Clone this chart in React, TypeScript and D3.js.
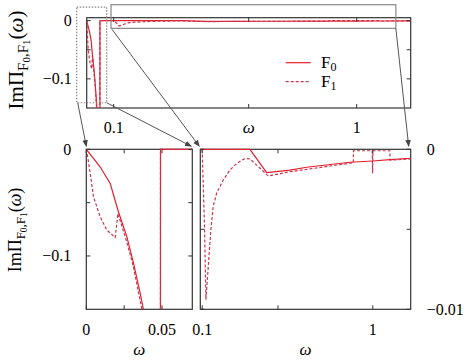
import React from 'react';
import * as d3 from 'd3';

// omega grid and Im Pi values
const omegaF0 = [0, 0.005, 0.0092, 0.0158, 0.0209, 0.0268, 0.0312, 0.0356, 0.0377, 0.044, 0.0489, 0.049, 0.07, 0.1, 0.352, 0.44, 0.564, 0.651, 0.88, 1.0, 1.09, 1.2];
const valuesF0 = [0, -0.009, -0.0166, -0.0321, -0.0571, -0.0821, -0.107, -0.135, -0.15, -0.25, -0.5, 0, 0, 0, 0, -0.00146, -0.0013, -0.00112, -0.00081, -0.00073, -0.00065, -0.00056];

const omegaF1 = [0, 0.001, 0.0026, 0.0048, 0.0092, 0.0136, 0.0191, 0.0209, 0.0264, 0.031, 0.0367, 0.044, 0.0489, 0.049, 0.07, 0.1, 0.1125, 0.1196, 0.146, 0.158, 0.176, 0.211, 0.246, 0.282, 0.317, 0.334, 0.352, 0.449, 0.563, 0.88, 0.8975, 0.898, 0.997, 0.999, 1.001, 1.09, 1.091, 1.2];
const valuesF1 = [0, -0.008, -0.0228, -0.0447, -0.0634, -0.0758, -0.0827, -0.0602, -0.0852, -0.1095, -0.15, -0.28, -0.5, 0, 0, 0, -0.005, -0.0094, -0.005, -0.00358, -0.00275, -0.00192, -0.0013, -0.00088, -0.00063, -0.00058, -0.0006, -0.00167, -0.0014, -0.00087, -0.00085, -0.00009, -0.00009, -0.0015, -0.00009, -0.00009, -0.00068, -0.0006];

const seriesNames = ['F0', 'F1'];

// ticks
const topXTicks = [0.1, 0.6, 1];
const topXLabels = ['0.1', '', '1'];
const topYTicks = [0, -0.05, -0.1];
const topYLabels = ['0', '', '\u22120.1'];
const leftXTicks = [0, 0.025, 0.05];
const leftXLabels = ['0', '', '0.05'];
const leftYTicks = [0, -0.05, -0.1];
const leftYLabels = ['0', '', '\u22120.1'];
const rightXTicks = [0.1, 0.5, 1];
const rightXLabels = ['0.1', '', '1'];
const rightYTicks = [0, -0.005, -0.01];
const rightYLabels = ['0', '', '\u22120.01'];

const FONT = '"Liberation Serif", "DejaVu Serif", serif';
const RED0 = '#e3202c';
const RED1 = '#cc3550';
const FRAME = '#333';

type Pt = [number, number];
const ptsF0: Pt[] = omegaF0.map((w, i) => [w, valuesF0[i]]);
const ptsF1: Pt[] = omegaF1.map((w, i) => [w, valuesF1[i]]);

function Panel({ id, x, y, xTicks, xLabels, yTicks, yLabels, yLabelSide, xLabelY }: any) {
  const [x0, x1] = x.range();
  const [y1, y0] = y.range();
  const line = d3.line<Pt>().x(d => x(d[0])).y(d => y(d[1]));
  const tl = 4;
  return (
    <g>
      {/* clip a bit above the frame so the lines sitting on zero stay visible */}
      <clipPath id={id}>
        <rect x={x0} y={y0 - 1.5} width={x1 - x0} height={y1 - y0 + 1.5} />
      </clipPath>
      <rect x={x0} y={y0} width={x1 - x0} height={y1 - y0} fill="none" stroke={FRAME} strokeWidth={1.2} />
      <g clipPath={`url(#${id})`}>
        <path d={line(ptsF0) || ''} fill="none" stroke={RED0} strokeWidth={1.2} />
        <path d={line(ptsF1) || ''} fill="none" stroke={RED1} strokeWidth={1.2} strokeDasharray="3,2" />
      </g>
      {xTicks.map((t: number, i: number) => (
        <g key={'x' + i}>
          <line x1={x(t)} x2={x(t)} y1={y1} y2={y1 - tl} stroke={FRAME} />
          <line x1={x(t)} x2={x(t)} y1={y0} y2={y0 + tl} stroke={FRAME} />
          {xLabels[i] && (
            <text x={x(t)} y={xLabelY} textAnchor="middle" fontSize={16}>{xLabels[i]}</text>
          )}
        </g>
      ))}
      {yTicks.map((t: number, i: number) => (
        <g key={'y' + i}>
          <line x1={x0} x2={x0 + tl} y1={y(t)} y2={y(t)} stroke={FRAME} />
          <line x1={x1} x2={x1 - tl} y1={y(t)} y2={y(t)} stroke={FRAME} />
          {yLabels[i] && (yLabelSide === 'left' ? (
            <text x={x0 - 15} y={y(t)} dy="0.34em" textAnchor="end" fontSize={16}>{yLabels[i]}</text>
          ) : (
            <text x={x1 + 16} y={y(t)} dy="0.34em" textAnchor="start" fontSize={16}>{yLabels[i]}</text>
          ))}
        </g>
      ))}
    </g>
  );
}

function YLabel({ cx, cy, size }: { cx: number; cy: number; size: number }) {
  const s1 = size * 0.72;
  const s2 = size * 0.52;
  return (
    <text transform={`translate(${cx},${cy}) rotate(-90)`} textAnchor="middle" fontSize={size} dy={size * 0.3}>
      ImΠ
      <tspan fontSize={s1} dy={size * 0.2}>F</tspan>
      <tspan fontSize={s2} dy={size * 0.12}>0</tspan>
      <tspan fontSize={s1} dy={-size * 0.12}>,F</tspan>
      <tspan fontSize={s2} dy={size * 0.12}>1</tspan>
      <tspan fontSize={size} dy={-size * 0.32}>(</tspan>
      <tspan fontStyle="italic">ω</tspan>
      <tspan>)</tspan>
    </text>
  );
}

export default function App() {
  const xTop = d3.scaleLinear().domain([0, 1.2]).range([86.7, 410.7]);
  const yTop = d3.scaleLinear().domain([-0.15, 0.005]).range([108, 17.7]);
  const xLeft = d3.scaleLinear().domain([0, 0.07]).range([86.3, 192.3]);
  const yLeft = d3.scaleLinear().domain([-0.15, 0]).range([309.3, 149.3]);
  const xRight = d3.scaleLinear().domain([0.09, 1.2]).range([200.3, 410.7]);
  const yRight = d3.scaleLinear().domain([-0.01, 0]).range([309.3, 149.3]);

  // zoom boxes on the top panel
  const dx0 = xTop(-0.037), dx1 = xTop(0.074), dy0 = yTop(0.023), dy1 = yTop(-0.141);
  const gx0 = xTop(0.09), gx1 = xTop(1.145), gy0 = yTop(0.0273), gy1 = yTop(-0.0133);
  const tipY = yLeft(0) - 3;
  const arrows: [number, number, number, number][] = [
    [dx0 + 1, dy1, xLeft(0), tipY],
    [dx1, dy1, xLeft(0.07) - 1, tipY],
    [gx0 + 1, gy1 + 1, xRight(0.09) - 1, tipY],
    [gx1, gy1, xRight(1.2) - 2, tipY],
  ];

  return (
    <svg width={471} height={361} fontFamily={FONT} style={{ display: 'block', margin: 0, position: 'absolute', left: 0, top: 0 }}>
      <defs>
        <marker id="arr" viewBox="0 0 10 10" refX={9} refY={5} markerWidth={7} markerHeight={7} orient="auto">
          <path d="M0,1 L10,5 L0,9 z" fill="#444" />
        </marker>
      </defs>

      <Panel id="cTop" x={xTop} y={yTop} xTicks={topXTicks} xLabels={topXLabels} yTicks={topYTicks} yLabels={topYLabels} yLabelSide="left" xLabelY={133} />
      <Panel id="cLeft" x={xLeft} y={yLeft} xTicks={leftXTicks} xLabels={leftXLabels} yTicks={leftYTicks} yLabels={leftYLabels} yLabelSide="left" xLabelY={335} />
      <Panel id="cRight" x={xRight} y={yRight} xTicks={rightXTicks} xLabels={rightXLabels} yTicks={rightYTicks} yLabels={rightYLabels} yLabelSide="right" xLabelY={335} />

      <rect x={dx0} y={dy0} width={dx1 - dx0} height={dy1 - dy0} fill="none" stroke="#888" strokeWidth={1.2} strokeDasharray="1.5,1.5" />
      <rect x={gx0} y={gy0} width={gx1 - gx0} height={gy1 - gy0} fill="none" stroke="#888" strokeWidth={1.2} />
      {arrows.map((a, i) => (
        <line key={i} x1={a[0]} y1={a[1]} x2={a[2]} y2={a[3]} stroke="#555" strokeWidth={1} markerEnd="url(#arr)" />
      ))}

      {/* legend */}
      {seriesNames.map((n, i) => (
        <g key={n}>
          <line x1={285.7} x2={310.7} y1={62.7 + i * 19} y2={62.7 + i * 19} stroke={i === 0 ? RED0 : RED1} strokeWidth={1.2} strokeDasharray={i === 0 ? undefined : '3,2'} />
          <text x={321} y={68.3 + i * 19} fontSize={17}>
            {n[0]}
            <tspan fontSize={12} dy={3}>{n.slice(1)}</tspan>
          </text>
        </g>
      ))}

      {/* axis titles */}
      <text x={(xTop.range()[0] + xTop.range()[1]) / 2} y={133} textAnchor="middle" fontSize={17} fontStyle="italic">ω</text>
      <text x={(xLeft.range()[0] + xLeft.range()[1]) / 2} y={355} textAnchor="middle" fontSize={17} fontStyle="italic">ω</text>
      <text x={(xRight.range()[0] + xRight.range()[1]) / 2} y={355} textAnchor="middle" fontSize={17} fontStyle="italic">ω</text>
      <YLabel cx={17} cy={60} size={21} />
      <YLabel cx={16} cy={230} size={18} />
    </svg>
  );
}
